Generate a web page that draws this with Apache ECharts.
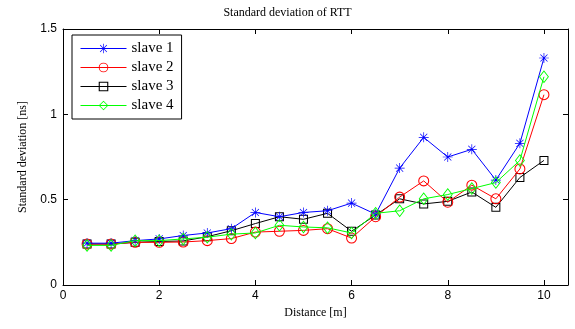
<!DOCTYPE html>
<html>
<head>
<meta charset="utf-8">
<script src="https://cdn.jsdelivr.net/npm/echarts@6/dist/echarts.min.js"></script>
<style>html,body{margin:0;padding:0;background:#fff;}#c{width:575px;height:329px;}</style>
</head>
<body>
<div id="c"></div>
<script>
const distances = [0.5,1,1.5,2,2.5,3,3.5,4,4.5,5,5.5,6,6.5,7,7.5,8,8.5,9,9.5,10];
const slave1 = [0.245,0.245,0.26,0.27,0.29,0.305,0.33,0.425,0.40,0.425,0.435,0.48,0.415,0.685,0.865,0.75,0.795,0.615,0.83,1.33];
const slave2 = [0.24,0.24,0.25,0.25,0.252,0.26,0.272,0.31,0.315,0.32,0.33,0.275,0.40,0.515,0.61,0.485,0.585,0.505,0.68,1.115];
const slave3 = [0.24,0.24,0.25,0.255,0.258,0.283,0.318,0.36,0.40,0.385,0.42,0.315,0.41,0.505,0.475,0.49,0.545,0.455,0.63,0.73];
const slave4 = [0.232,0.232,0.26,0.26,0.27,0.28,0.298,0.305,0.35,0.34,0.335,0.305,0.42,0.435,0.505,0.53,0.565,0.6,0.73,1.22];
const seriesNames = ['slave 1','slave 2','slave 3','slave 4'];
const xTicks = [0,2,4,6,8,10];
const yTicks = [0,0.5,1,1.5];

const asterisk = 'path://M9.3,0 L10.7,0 L10.7,20 L9.3,20 Z M0,9.3 L20,9.3 L20,10.7 L0,10.7 Z M3.4,2.4 L17.6,16.6 L16.6,17.6 L2.4,3.4 Z M16.6,2.4 L17.6,3.4 L3.4,17.6 L2.4,16.6 Z';
const ring = 'path://M0,10 A10,10 0 1,1 20,10 A10,10 0 1,1 0,10 Z M1.9,10 A8.1,8.1 0 1,0 18.1,10 A8.1,8.1 0 1,0 1.9,10 Z';
const hollowSquare = 'path://M0,0 L20,0 L20,20 L0,20 Z M2.3,2.3 L2.3,17.7 L17.7,17.7 L17.7,2.3 Z';
const hollowDiamond = 'path://M10,0 L20,10 L10,20 L0,10 Z M10,2.3 L2.2,10 L10,17.7 L17.8,10 Z';

function pairs(v){ return distances.map((d,i)=>[d,v[i]]); }

const serif = '"Liberation Serif", "DejaVu Serif", serif';
const sans = '"Liberation Sans", Arial, sans-serif';

const chart = echarts.init(document.getElementById('c'), null, {renderer:'canvas'});
const axisCommon = {
  axisLine:{show:true, onZero:false, lineStyle:{color:'#000', width:1}},
  axisTick:{show:true, inside:true, length:5, lineStyle:{color:'#000', width:1}},
  splitLine:{show:false}
};
chart.setOption({
  animation:false,
  backgroundColor:'#fff',
  title:{text:'Standard deviation of RTT', left:'center', top:2,
    textStyle:{fontFamily:serif, fontSize:12, fontWeight:'normal', color:'#000'}},
  grid:{left:63, right:7, top:29, bottom:44},
  legend:{
    data: seriesNames,
    orient:'vertical', left:72, top:35,
    backgroundColor:'#fff', borderColor:'#000', borderWidth:1,
    padding:[6,8,6,8], itemWidth:46, itemHeight:12, itemGap:4,
    lineStyle:{width:1},
    textStyle:{fontFamily:serif, fontSize:15, color:'#000'}
  },
  xAxis:[
    Object.assign({type:'value', min:0, max:10.5, interval:2, position:'bottom',
      name:'Distance [m]', nameLocation:'middle', nameGap:22,
      nameTextStyle:{fontFamily:serif, fontSize:12, color:'#000'},
      axisLabel:{color:'#000', fontFamily:sans, fontSize:12, margin:5, showMaxLabel:false,
        formatter:v=> xTicks.includes(v)? String(v):''}}, axisCommon),
    Object.assign({type:'value', min:0, max:10.5, interval:2, position:'top',
      axisLabel:{show:false}}, axisCommon)
  ],
  yAxis:[
    Object.assign({type:'value', min:0, max:1.5, interval:0.5, position:'left',
      name:'Standard deviation [ns]', nameLocation:'middle', nameGap:34,
      nameTextStyle:{fontFamily:serif, fontSize:12, color:'#000'},
      axisLabel:{color:'#000', fontFamily:sans, fontSize:12, margin:6,
        formatter:v=> yTicks.includes(v)? String(v):''}}, axisCommon),
    Object.assign({type:'value', min:0, max:1.5, interval:0.5, position:'right',
      axisLabel:{show:false}}, axisCommon)
  ],
  series:[
    {name:seriesNames[0], type:'line', data:pairs(slave1), symbol:asterisk, symbolSize:10,
      itemStyle:{color:'#0000ff'}, lineStyle:{color:'#0000ff', width:1}, z:4},
    {name:seriesNames[1], type:'line', data:pairs(slave2), symbol:ring, symbolSize:11,
      itemStyle:{color:'#ff0000'}, lineStyle:{color:'#ff0000', width:1}, z:3},
    {name:seriesNames[2], type:'line', data:pairs(slave3), symbol:hollowSquare, symbolSize:9,
      itemStyle:{color:'#000'}, lineStyle:{color:'#000', width:1}, z:2},
    {name:seriesNames[3], type:'line', data:pairs(slave4), symbol:hollowDiamond, symbolSize:[10,13],
      itemStyle:{color:'#00ff00'}, lineStyle:{color:'#00ff00', width:1}, z:5}
  ]
});
</script>
</body>
</html>
